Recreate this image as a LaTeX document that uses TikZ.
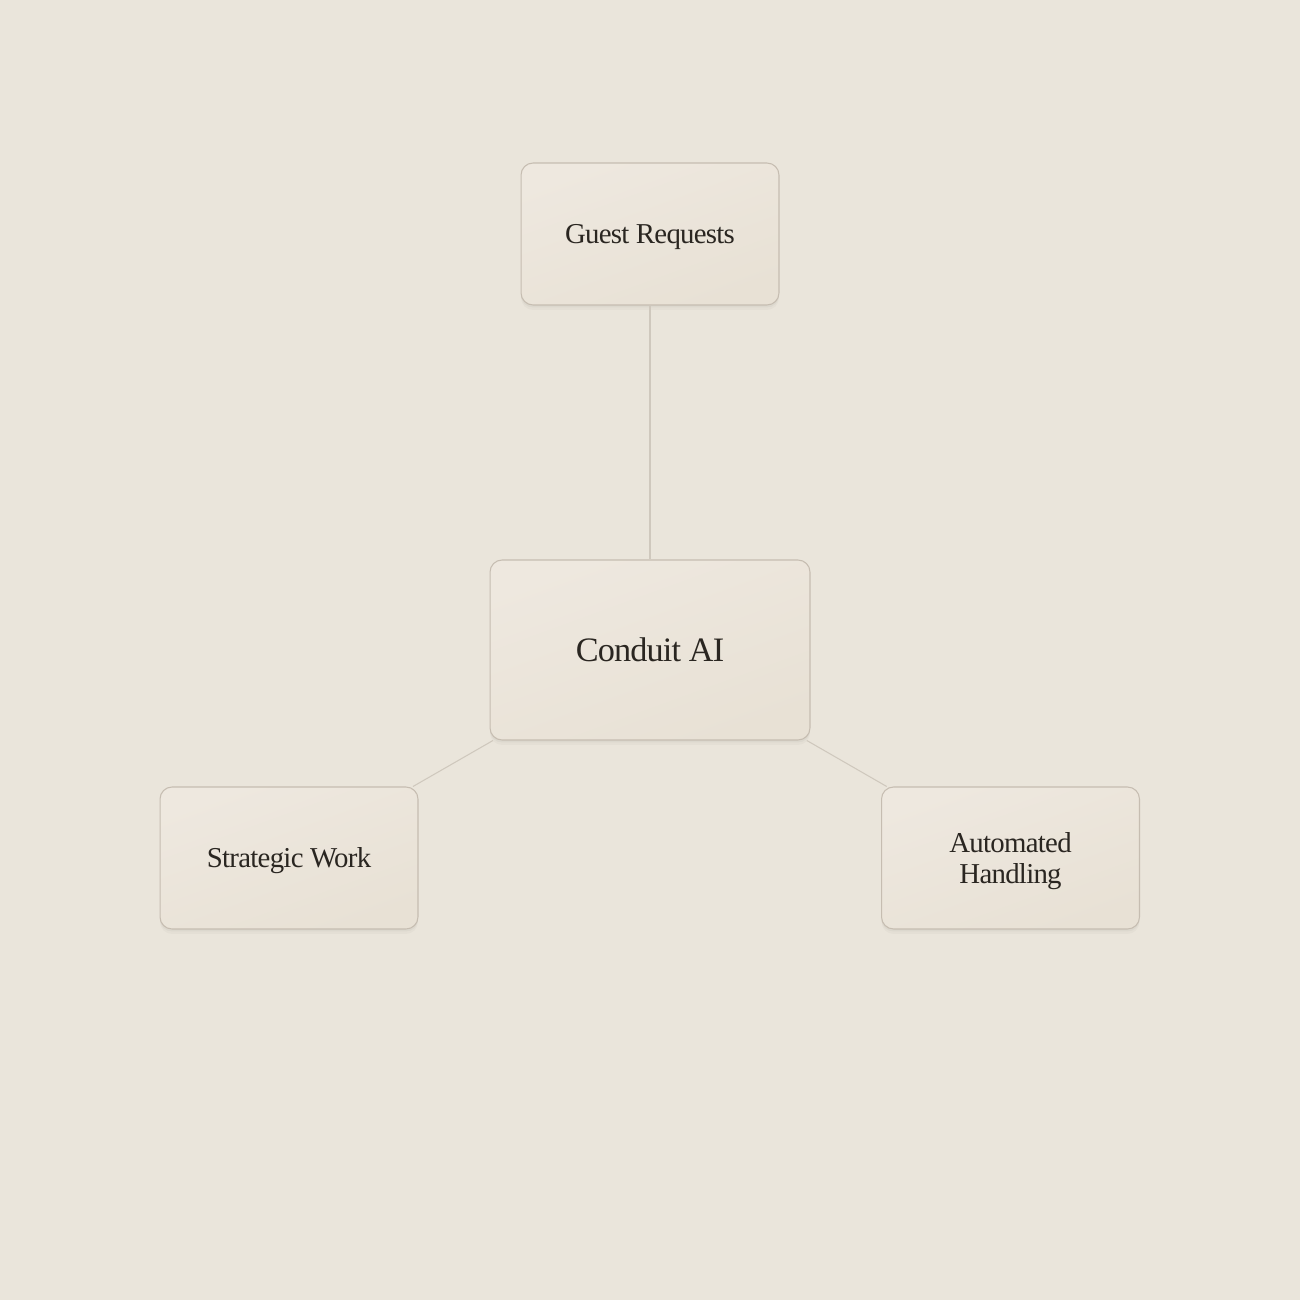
\documentclass[tikz,border=0pt]{standalone}
\usepackage{fontspec}
\setmainfont{Liberation Serif}[LetterSpace=-2.5]
\definecolor{bg}{HTML}{EAE5DB}
\definecolor{boxtop}{HTML}{EEE8DF}
\definecolor{boxbot}{HTML}{E8E1D5}
\definecolor{boxline}{HTML}{C6BDB1}
\definecolor{conn}{HTML}{CFC8BD}
\definecolor{ink}{HTML}{2A2621}
\newcommand{\lowered}[2]{\raisebox{-#1}[\height][\depth]{#2}}
\tikzset{
  card/.style={draw=boxline, line width=0.6pt, rounded corners=0.24cm,
    top color=boxtop, bottom color=boxbot, shading angle=20,
    text=ink, align=center, inner sep=0pt,
    preaction={draw=none, fill=black, fill opacity=0.025, transform canvas={yshift=-0.1cm}},
    preaction={draw=none, fill=black, fill opacity=0.03, transform canvas={yshift=-0.05cm}}},
  smallcard/.style={card, minimum width=5.16cm, minimum height=2.84cm, font=\fontsize{16.4}{17.2}\selectfont},
  bigcard/.style={card, minimum width=6.4cm, minimum height=3.6cm, font=\fontsize{19.5}{22}\selectfont},
  link/.style={draw=conn, line width=0.6pt}
}
\begin{document}
\begin{tikzpicture}[x=0.02cm,y=-0.02cm]
\fill[bg] (0,0) rectangle (1300,1300);
\useasboundingbox (0,0) rectangle (1300,1300);
\node[smallcard] (guest) at (650,234) {\lowered{1.6pt}{Guest Requests}};
\node[bigcard] (core) at (650,650) {Conduit AI};
\node[smallcard] (strat) at (289,858) {\lowered{1.6pt}{Strategic Work}};
\node[smallcard] (auto) at (1010.5,858) {\lowered{2.2pt}{\begin{tabular}{@{}c@{}}Automated\\Handling\end{tabular}}};
\draw[link] (guest) -- (core);
\draw[link] (core) -- (strat);
\draw[link] (core) -- (auto);
\end{tikzpicture}
\end{document}
